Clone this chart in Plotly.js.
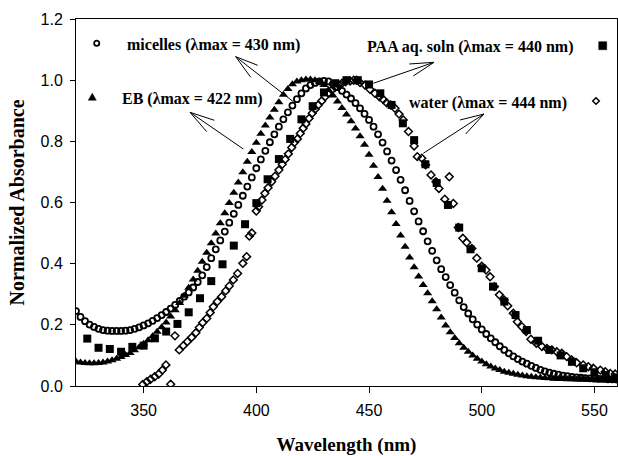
<!DOCTYPE html>
<html>
<head>
<meta charset="utf-8">
<script src="https://cdn.plot.ly/plotly-3.0.1.min.js"></script>
<style>html,body{margin:0;padding:0;background:#fff;}#chart{width:618px;height:456px;}</style>
</head>
<body>
<div id="chart"></div>
<script>
// ---- data ----
const gridWavelength = [320,322,324,326,328,330,332,334,336,338,340,342,344,346,348,350,352,354,356,358,360,362,364,366,368,370,372,374,376,378,380,382,384,386,388,390,392,394,396,398,400,402,404,406,408,410,412,414,416,418,420,422,424,426,428,430,432,434,436,438,440,442,444,446,448,450,452,454,456,458,460,462,464,466,468,470,472,474,476,478,480,482,484,486,488,490,492,494,496,498,500,502,504,506,508,510,512,514,516,518,520,522,524,526,528,530,532,534,536,538,540,542,544,546,548,550,552,554,556,558,560];

const micellesAbs = [0.245,0.226,0.212,0.201,0.193,0.187,0.183,0.181,0.180,0.180,0.180,0.181,0.183,0.187,0.192,0.198,0.205,0.213,0.222,0.232,0.242,0.253,0.265,0.278,0.292,0.306,0.322,0.340,0.362,0.389,0.418,0.447,0.476,0.505,0.534,0.563,0.592,0.622,0.652,0.682,0.712,0.741,0.769,0.797,0.823,0.848,0.872,0.895,0.917,0.938,0.957,0.973,0.984,0.991,0.996,0.998,0.996,0.988,0.977,0.965,0.953,0.940,0.925,0.908,0.890,0.870,0.848,0.823,0.796,0.767,0.737,0.706,0.674,0.640,0.605,0.571,0.538,0.506,0.473,0.442,0.411,0.382,0.356,0.330,0.305,0.280,0.258,0.237,0.218,0.201,0.185,0.170,0.156,0.143,0.130,0.118,0.107,0.097,0.088,0.080,0.073,0.066,0.059,0.053,0.048,0.044,0.040,0.037,0.034,0.032,0.030,0.028,0.027,0.026,0.025,0.024,0.023,0.023,0.022,0.022,0.021];

const ebAbs = [0.080,0.077,0.075,0.074,0.074,0.075,0.077,0.080,0.084,0.089,0.095,0.101,0.108,0.117,0.127,0.138,0.150,0.163,0.177,0.192,0.208,0.227,0.248,0.271,0.295,0.321,0.348,0.377,0.406,0.436,0.467,0.499,0.532,0.565,0.598,0.632,0.665,0.699,0.733,0.765,0.795,0.825,0.852,0.878,0.903,0.928,0.952,0.971,0.987,0.996,1.000,1.002,1.002,1.000,0.995,0.984,0.968,0.950,0.930,0.909,0.888,0.866,0.842,0.817,0.789,0.756,0.720,0.683,0.645,0.606,0.568,0.530,0.492,0.455,0.420,0.388,0.358,0.330,0.303,0.277,0.251,0.224,0.198,0.176,0.157,0.140,0.125,0.112,0.100,0.089,0.080,0.071,0.064,0.057,0.052,0.047,0.043,0.040,0.037,0.034,0.032,0.030,0.029,0.028,0.026,0.025,0.024,0.023,0.023,0.022,0.022,0.021,0.021,0.021,0.020,0.020,0.020,0.020,0.019,0.019,0.019];

const paaWavelength = [325,330,335,340,345,350,355,360,365,370,375,380,385,390,395,400,405,410,415,420,425,430,435,440,445,450,455,460,465,470,475,480,485,490,495,500,505,510,515,520,525,530,535,540,545,550,555,560];
const paaAbs = [0.155,0.125,0.121,0.112,0.128,0.132,0.156,0.178,0.203,0.241,0.287,0.343,0.398,0.459,0.529,0.598,0.676,0.742,0.808,0.872,0.915,0.960,0.990,1.000,1.000,0.986,0.957,0.919,0.859,0.804,0.725,0.664,0.592,0.518,0.447,0.385,0.325,0.276,0.232,0.183,0.148,0.118,0.100,0.079,0.058,0.045,0.036,0.028];

const waterWavelength = [349.6,351.4,353.1,354.9,356.7,358.3,359.9,362.0,363.9,365.8,367.6,369.4,371.3,373.2,374.7,376.2,378.0,379.5,380.9,382.7,384.6,386.4,388.0,389.8,391.7,394.0,395.7,396.9,398.0,400.0,401.0,402.5,403.8,405.2,406.8,408.3,410.0,411.5,412.8,414.2,415.7,416.9,418.2,419.5,420.8,422.0,423.4,424.8,426.1,427.5,429.0,430.5,432.0,433.5,435.0,436.5,438.0,439.6,441.6,443.2,444.5,446.0,448.2,450.4,452.6,454.6,456.3,457.8,459.6,461.5,463.3,465.2,467.5,470.0,471.4,473.4,475.1,477.5,479.7,481.0,483.6,485.6,487.4,489.6,491.6,493.3,495.6,497.8,500.0,501.9,503.7,505.6,507.8,509.9,511.5,514.0,515.8,517.8,519.7,521.8,524.2,526.7,528.9,531.1,533.3,535.5,537.7,539.9,542.1,545.0,547.3,549.5,552.6,554.8,557.0,559.2];
const waterAbs = [0.005,0.014,0.022,0.030,0.039,0.052,0.069,0.006,0.164,0.118,0.132,0.145,0.159,0.174,0.191,0.207,0.221,0.240,0.259,0.276,0.292,0.311,0.327,0.347,0.368,0.401,0.423,0.490,0.500,0.572,0.586,0.608,0.630,0.648,0.668,0.686,0.706,0.725,0.741,0.759,0.780,0.796,0.808,0.826,0.843,0.857,0.875,0.892,0.905,0.919,0.932,0.946,0.958,0.968,0.977,0.985,0.990,0.995,0.997,1.000,1.000,0.992,0.984,0.970,0.957,0.946,0.937,0.926,0.919,0.908,0.889,0.870,0.832,0.785,0.750,0.745,0.723,0.690,0.668,0.646,0.611,0.684,0.597,0.518,0.483,0.469,0.450,0.418,0.392,0.379,0.357,0.325,0.298,0.281,0.262,0.238,0.210,0.194,0.178,0.153,0.140,0.129,0.123,0.118,0.112,0.107,0.096,0.085,0.076,0.069,0.063,0.058,0.052,0.047,0.041,0.039];

const xTickVals = [350,400,450,500,550];
const yTickVals = [0,0.2,0.4,0.6,0.8,1.0,1.2];
const labelMicelles = 'micelles (λmax = 430 nm)';
const labelEB = 'EB (λmax = 422 nm)';
const labelPAA = 'PAA aq. soln (λmax = 440 nm)';
const labelWater = 'water (λmax = 444 nm)';

// ---- traces ----
const traces = [
  {x: gridWavelength, y: micellesAbs, type:'scatter', mode:'markers', name:'micelles',
   marker:{symbol:'circle-open', size:6, color:'#000', line:{width:1.8, color:'#000'}}},
  {x: paaWavelength, y: paaAbs, type:'scatter', mode:'markers', name:'PAA',
   marker:{symbol:'square', size:8, color:'#000'}},
  {x: waterWavelength, y: waterAbs, type:'scatter', mode:'markers', name:'water',
   marker:{symbol:'diamond-open', size:6, color:'#000', line:{width:1.5, color:'#000'}}},
  {x: gridWavelength, y: ebAbs, type:'scatter', mode:'markers', name:'EB',
   marker:{symbol:'triangle-up', size:8, color:'#000'}}
];

const serif = 'Liberation Serif, Times New Roman, serif';
const sans = 'Liberation Sans, Arial, sans-serif';

function arrowPath(tail, tip, w1, w2){
  return 'M'+tail[0]+','+tail[1]+' L'+tip[0]+','+tip[1]+' M'+w1[0]+','+w1[1]+' L'+tip[0]+','+tip[1]+' L'+w2[0]+','+w2[1];
}
const arrowLine = {color:'#000', width:1};
const shapes = [
  {type:'path', xref:'x', yref:'y', path: arrowPath([416.4,0.9296],[390.85,1.0768],[400.6,1.0486],[397.5,1.0094]), line:arrowLine},
  {type:'path', xref:'x', yref:'y', path: arrowPath([394.22,0.775],[370.57,0.895],[381.35,0.8688],[377.98,0.8315]), line:arrowLine},
  {type:'path', xref:'x', yref:'y', path: arrowPath([451.89,0.9898],[478.82,1.0584],[467.86,1.0529],[469.63,1.0136]), line:arrowLine},
  {type:'path', xref:'x', yref:'y', path: arrowPath([474.07,0.7609],[501.0,0.8894],[490.35,0.8698],[492.88,0.824]), line:arrowLine},
  // key symbols
  {type:'circle', xref:'paper', yref:'paper', xsizemode:'pixel', ysizemode:'pixel', xanchor:0.0383, yanchor:0.9338,
   x0:-2.6, x1:2.6, y0:-2.6, y1:2.6, line:{color:'#000', width:1.8}},
  {type:'path', xref:'paper', yref:'paper', xsizemode:'pixel', ysizemode:'pixel', xanchor:0.0301, yanchor:0.7883,
   path:'M-4,-3.5 L4,-3.5 L0,3.5 Z', fillcolor:'#000', line:{color:'#000', width:0.5}},
  {type:'rect', xref:'paper', yref:'paper', xsizemode:'pixel', ysizemode:'pixel', xanchor:0.9736, yanchor:0.9272,
   x0:-4, x1:4, y0:-4, y1:4, fillcolor:'#000', line:{color:'#000', width:0.5}},
  {type:'path', xref:'paper', yref:'paper', xsizemode:'pixel', ysizemode:'pixel', xanchor:0.9612, yanchor:0.7766,
   path:'M0,-3.3 L3.3,0 L0,3.3 L-3.3,0 Z', line:{color:'#000', width:1.5}}
];

const annFont = {family: serif, size: 16, color:'#000'};
const annotations = [
  {text:'<b>'+labelMicelles+'</b>', xref:'paper', yref:'paper', x:0.2549, y:0.929, showarrow:false, font:annFont, xanchor:'center', yanchor:'middle'},
  {text:'<b>'+labelEB+'</b>', xref:'paper', yref:'paper', x:0.2153, y:0.782, showarrow:false, font:annFont, xanchor:'center', yanchor:'middle'},
  {text:'<b>'+labelPAA+'</b>', xref:'paper', yref:'paper', x:0.7283, y:0.9229, showarrow:false, font:annFont, xanchor:'center', yanchor:'middle'},
  {text:'<b>'+labelWater+'</b>', xref:'paper', yref:'paper', x:0.7612, y:0.772, showarrow:false, font:annFont, xanchor:'center', yanchor:'middle'}
];

const layout = {
  width:618, height:456,
  margin:{l:76, r:1, t:19, b:70, pad:0},
  paper_bgcolor:'#fff', plot_bgcolor:'#fff',
  showlegend:false,
  xaxis:{range:[320,560], tickvals:xTickVals, ticks:'outside', ticklen:6, tickwidth:1, tickcolor:'#000',
         ticklabelstandoff:4,
         showline:true, linecolor:'#000', linewidth:1, mirror:true, showgrid:false, zeroline:false,
         tickfont:{family:sans, size:16, color:'#000'},
         title:{text:'<b>Wavelength (nm)</b>', font:{family:serif, size:19, color:'#000'}, standoff:22}},
  yaxis:{range:[0,1.2], tickvals:yTickVals, tickformat:'.1f', ticks:'outside', ticklen:5, tickwidth:1, tickcolor:'#000',
         ticklabelstandoff:4,
         showline:true, linecolor:'#000', linewidth:1, mirror:true, showgrid:false, zeroline:false,
         tickfont:{family:sans, size:16, color:'#000'},
         title:{text:'<b>Normalized Absorbance</b>', font:{family:serif, size:20, color:'#000'}, standoff:10}},
  shapes: shapes,
  annotations: annotations
};

Plotly.newPlot('chart', traces, layout, {displayModeBar:false, staticPlot:true});
</script>
</body>
</html>
